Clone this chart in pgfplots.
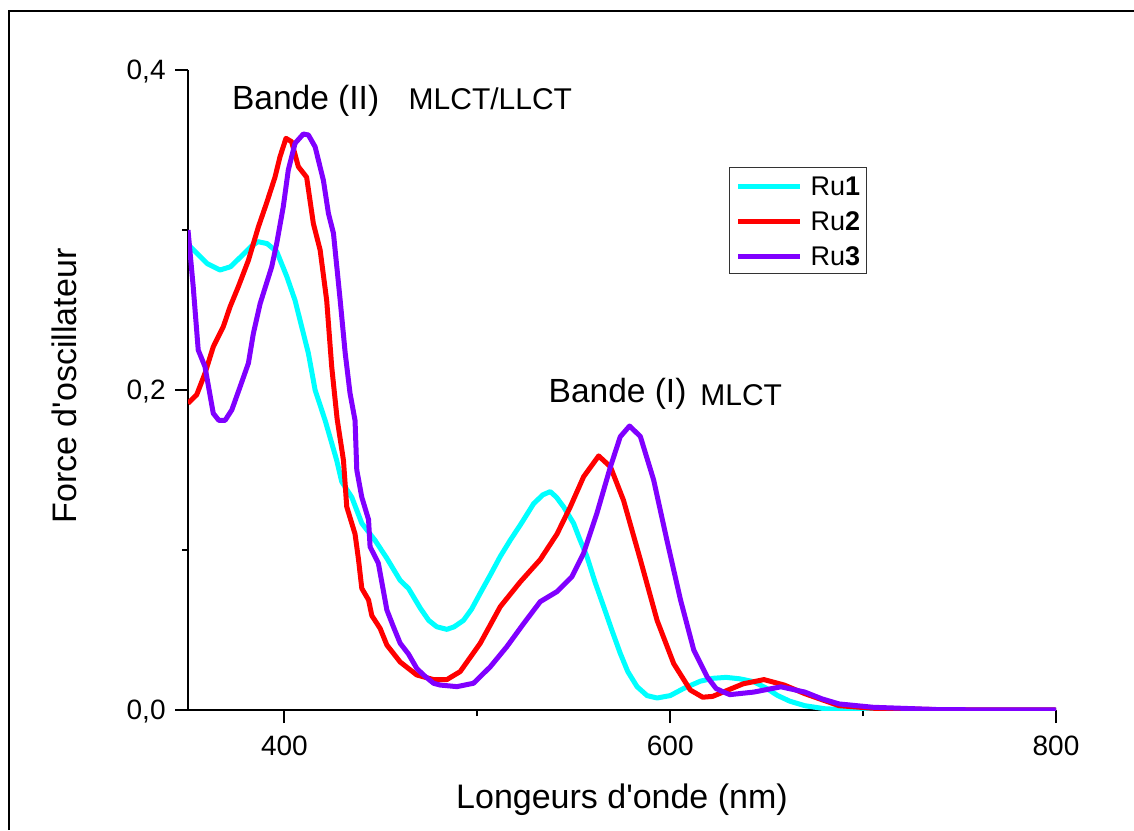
\documentclass[border=0pt]{standalone}
\usepackage{fontspec}
\setmainfont{Liberation Sans}
\usepackage{pgfplots}
\pgfplotsset{compat=1.18}
\definecolor{cRuA}{RGB}{0,255,255}
\definecolor{cRuB}{RGB}{255,0,0}
\definecolor{cRuC}{RGB}{128,0,255}
\newcommand\legfont{\fontsize{13.5}{16}\selectfont}
\begin{document}
\begin{tikzpicture}
\useasboundingbox (0,0) rectangle (567pt,415pt);
\draw[line width=1pt] (4.5pt,0) -- (4.5pt,409.5pt) -- (567pt,409.5pt);
\begin{axis}[
  at={(94pt,60pt)}, anchor=south west,
  scale only axis, width=434pt, height=320pt,
  xmin=350, xmax=800, ymin=0, ymax=0.4,
  axis x line*=bottom, axis y line*=left,
  axis line style={line width=1pt},
  xtick={400,600,800}, ytick={0,0.2,0.4},
  minor xtick={500,700}, minor ytick={0.1,0.3},
  tick align=outside,
  major tick length=6.5pt, minor tick length=3pt,
  tick style={black, line width=1pt},
  tick label style={font=\fontsize{14}{16}\selectfont},
  /pgf/number format/assume math mode=true,
  yticklabel style={/pgf/number format/fixed, /pgf/number format/fixed zerofill,
    /pgf/number format/precision=1, /pgf/number format/use comma,
    inner sep=0pt, xshift=-4.5pt, text depth=0pt},
  xticklabel style={inner sep=0pt, yshift=-6.5pt},
  legend style={at={(0.6233,0.8484)}, anchor=north west, draw=black!80, line width=0.6pt,
    inner xsep=3pt, inner ysep=0pt,
    nodes={inner sep=0pt, text height=13.8pt, text depth=3.8pt, anchor=base west},
    /tikz/every odd column/.append style={column sep=4pt}},
  legend cell align=left,
  legend image code/.code={\draw[#1] (0pt,4.6pt) -- (31pt,4.6pt);},
]
\addplot[color=cRuA, line width=2.5pt, line join=round] coordinates {
(350,0.291) (355,0.285) (360,0.279) (366.6,0.275) (372,0.277) (378,0.284) (383,0.290)
(386.3,0.2927) (391,0.2915) (396,0.2865) (401.2,0.271) (405.5,0.256) (412.4,0.223)
(415.9,0.2) (421.1,0.181) (427.1,0.156) (429.7,0.1427) (434.9,0.133) (440.1,0.1167)
(447,0.106) (453.1,0.0948) (460,0.081) (464.3,0.076) (470.5,0.0635) (474.8,0.056)
(479,0.052) (484.2,0.0504) (488,0.052) (492.8,0.056) (497,0.063) (501.5,0.073)
(507,0.085) (511.9,0.096) (517,0.106) (523,0.117) (529.2,0.129) (534,0.1345)
(537.8,0.1365) (541,0.133) (544.7,0.127) (549.9,0.1167) (553,0.107) (556.8,0.096)
(561,0.080) (565.5,0.0646) (570,0.049) (574.1,0.0354) (578,0.024) (582.8,0.0146)
(588,0.009) (593.2,0.0075) (600,0.009) (607,0.0135) (615.6,0.018) (622,0.0198)
(629,0.0204) (636,0.0195) (643.3,0.0177) (650,0.0135) (655.6,0.0091) (662,0.0055)
(669.8,0.0027) (680,0.0008) (690,0.0002) (700,0) (800,0)};
\addlegendentry{\legfont Ru\textbf{1}}
\addplot[color=cRuB, line width=2.5pt, line join=round] coordinates {
(350,0.1917) (354.5,0.197) (358.8,0.2104) (363.1,0.227) (368.3,0.2396) (371.8,0.252)
(376.1,0.2646) (381.3,0.281) (386.5,0.302) (390.7,0.3167) (395.1,0.333) (397.7,0.3458)
(400.8,0.3573) (403.7,0.3552) (407.2,0.3396) (411.5,0.333) (415,0.304) (418.5,0.2875)
(421.9,0.256) (424.5,0.2146) (427.3,0.182) (430.6,0.156) (432.3,0.127) (436.6,0.110)
(438.4,0.094) (440.1,0.076) (443.6,0.0688) (445.3,0.059) (449.6,0.051) (453.1,0.0406)
(460,0.030) (468.6,0.0219) (477.3,0.019) (484.2,0.019) (491.1,0.024) (501.5,0.0417)
(511.9,0.0646) (522.2,0.080) (532.6,0.094) (541.3,0.110) (548.2,0.127) (555.1,0.1458)
(562.9,0.1588) (569,0.152) (575.8,0.131) (584.5,0.094) (593.2,0.056) (601.8,0.029)
(610.4,0.0125) (616.8,0.008) (622,0.0085) (627.4,0.0112) (637.9,0.0164) (648.6,0.019)
(659.1,0.0156) (669.8,0.0102) (687.5,0.0027) (705.1,0.0011) (740,0.0002) (800,0)};
\addlegendentry{\legfont Ru\textbf{2}}
\addplot[color=cRuC, line width=2.5pt, line join=round] coordinates {
(350,0.30) (352.7,0.2646) (355.3,0.225) (358.8,0.2146) (363.1,0.1854) (366,0.181)
(369.2,0.181) (372.7,0.1875) (377,0.202) (381.3,0.2167) (383.9,0.2354) (387.4,0.254)
(393.4,0.277) (396,0.2917) (399.4,0.3146) (402,0.3375) (405.5,0.3542) (409.8,0.36)
(412.4,0.3594) (415.9,0.352) (420.2,0.331) (422.8,0.3104) (425.4,0.298) (428.9,0.256)
(431.5,0.223) (434,0.198) (436.6,0.181) (437.5,0.15) (440.1,0.133) (443.6,0.119)
(444.4,0.102) (448.7,0.0917) (453.1,0.0625) (456.5,0.052) (460,0.0417) (464.3,0.035)
(468.6,0.026) (472.1,0.0219) (477.3,0.0167) (480.7,0.0156) (489.4,0.0146) (498,0.0167)
(506.7,0.027) (515.3,0.0396) (524,0.054) (532.6,0.0677) (541.3,0.074) (549,0.0833)
(555.1,0.098) (562,0.123) (569,0.152) (574.1,0.1708) (578.9,0.1775) (584.5,0.171)
(591.4,0.1438) (598.3,0.106) (605.3,0.069) (612.2,0.0375) (619.1,0.0208) (623.8,0.0134)
(627.7,0.0112) (630.9,0.0096) (643.3,0.0112) (657.4,0.0145) (669.8,0.0112) (678.6,0.007)
(687.5,0.0038) (705.2,0.0017) (740.5,0.0002) (800,0)};
\addlegendentry{\legfont Ru\textbf{3}}
\end{axis}
\node[anchor=base west, inner sep=0pt, font=\fontsize{16.75}{20}\selectfont] at (115.85pt,360pt) {Bande (II)};
\node[anchor=base west, inner sep=0pt, font=\fontsize{15}{18}\selectfont] at (204.15pt,360.35pt) {MLCT/LLCT};
\node[anchor=base west, inner sep=0pt, font=\fontsize{16.75}{20}\selectfont] at (274.15pt,213.85pt) {Bande (I)};
\node[anchor=base west, inner sep=0pt, font=\fontsize{15}{18}\selectfont] at (350pt,212.15pt) {MLCT};
\node[anchor=base, inner sep=0pt, font=\fontsize{17}{20}\selectfont] at (311pt,11pt) {Longeurs d\textquotesingle onde (nm)};
\node[anchor=base, rotate=90, inner sep=0pt, font=\fontsize{17}{20}\selectfont] at (38.35pt,222pt) {Force d\textquotesingle oscillateur};
\end{tikzpicture}
\end{document}
